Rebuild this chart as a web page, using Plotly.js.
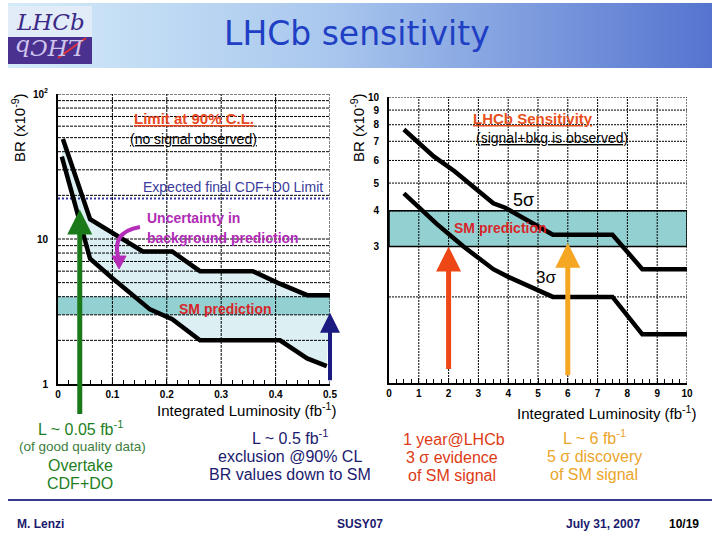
<!DOCTYPE html>
<html><head><meta charset="utf-8">
<script src="https://cdn.plot.ly/plotly-3.0.1.min.js"></script>
<style>html,body{margin:0;padding:0;background:#fff}#chart{width:720px;height:540px}</style>
</head><body><div id="chart"></div>
<script>
// ---------- DATA ----------
// Left panel: 90% CL limit band (Integrated luminosity fb^-1 vs BR x1e-9)
const limitLumiUpper = [0.009, 0.059, 0.156, 0.21, 0.261, 0.358, 0.403, 0.458, 0.5];
const limitBRUpper   = [49, 13.7, 8.2, 8.2, 6.0, 6.0, 5.0, 4.1, 4.1];
const limitLumiLower = [0.007, 0.046, 0.059, 0.099, 0.154, 0.169, 0.21, 0.261, 0.408, 0.458, 0.494];
const limitBRLower   = [37, 10.9, 7.3, 5.4, 3.6, 3.27, 2.8, 2.0, 2.0, 1.5, 1.33];
const cdfD0Expected  = 19;
const smBand         = [3, 4];
// Right panel: sensitivity curves
const lumi5sigma = [0.5, 1.5, 2.2, 3.5, 3.9, 5.5, 7.5, 8.5, 10];
const br5sigma   = [7.7, 6.2, 5.5, 4.25, 4.1, 3.3, 3.3, 2.5, 2.5];
const lumi3sigma = [0.5, 1.6, 2.5, 3.5, 4.0, 5.5, 7.5, 8.5, 10];
const br3sigma   = [4.6, 3.6, 3.0, 2.5, 2.35, 2.0, 2.0, 1.48, 1.48];
// Arrows (luminosity, BR at arrow head)
const arrowLumiLeft  = [0.04, 0.5];
const arrowBRLeft    = [16, 3.1];
const arrowLumiRight = [2, 6];
const arrowBRRight   = [3.0, 3.09];
// Ticks, labels and grid positions
const leftXTicks  = [0, 0.1, 0.2, 0.3, 0.4, 0.5];
const leftXLabels = ['0', '0.1', '0.2', '0.3', '0.4', '0.5'];
const leftYTicks  = [1, 10, 100];
const leftYLabels = ['1', '10', '10<sup>2</sup>'];
const leftYGrid   = [2,3,4,5,6,7,8,9,10,20,30,40,50,60,70,80,90,100];
const rightXTicks = [0,1,2,3,4,5,6,7,8,9,10];
const rightXLabels= ['0','1','2','3','4','5','6','7','8','9','10'];
const rightYTicks = [3,4,5,6,7,8,9,10];
const rightYLabels= ['3','4','5','6','7','8','9','10'];
const rightYGrid  = [2,3,4,5,6,7,8,9,10];

// ---------- HELPERS ----------
const W = 720, H = 540;
const px = x => x / W, py = y => 1 - y / H;
const SANS = 'Liberation Sans, Arial, sans-serif';
function ann(text, x, y, font, extra) {
  return Object.assign({text, x: px(x), y: py(y), xref: 'paper', yref: 'paper', showarrow: false,
    xanchor: 'center', yanchor: 'middle', font: Object.assign({family: SANS, size: 14, color: '#000'}, font || {})}, extra || {});
}
function gridTrace(hVals, x0, x1, vVals, y0, y1, xa, ya, dash) {
  const xs = [], ys = [];
  hVals.forEach(v => { xs.push(x0, x1, null); ys.push(v, v, null); });
  vVals.forEach(v => { xs.push(v, v, null); ys.push(y0, y1, null); });
  return {x: xs, y: ys, xaxis: xa, yaxis: ya, mode: 'lines', hoverinfo: 'skip',
    line: {color: '#000', width: 1, dash: dash}, showlegend: false};
}

// ---------- TRACES ----------
const traces = [];
traces.push({x: limitLumiUpper.concat(limitLumiLower.slice().reverse()),
  y: limitBRUpper.concat(limitBRLower.slice().reverse()),
  xaxis: 'x', yaxis: 'y', mode: 'lines', fill: 'toself', fillcolor: '#dcf0f4',
  line: {width: 0}, hoverinfo: 'skip', showlegend: false});
traces.push({x: [0, 0.5, 0.5, 0, 0], y: [smBand[0], smBand[0], smBand[1], smBand[1], smBand[0]],
  xaxis: 'x', yaxis: 'y', mode: 'lines', fill: 'toself', fillcolor: '#93d0d2',
  line: {width: 0}, hoverinfo: 'skip', showlegend: false});
traces.push({x: [0, 10, 10, 0, 0], y: [smBand[0], smBand[0], smBand[1], smBand[1], smBand[0]],
  xaxis: 'x2', yaxis: 'y2', mode: 'lines', fill: 'toself', fillcolor: '#93d0d2',
  line: {width: 1.5, color: '#000'}, hoverinfo: 'skip', showlegend: false});
traces.push(gridTrace(leftYGrid, 0, 0.5, leftXTicks.slice(1), 1, 100, 'x', 'y', '3px,1px'));
traces.push(gridTrace(rightYGrid, 0, 10, rightXTicks.slice(1), 1, 10, 'x2', 'y2', '2px,1px'));
traces.push({x: [0, 0.5], y: [cdfD0Expected, cdfD0Expected], xaxis: 'x', yaxis: 'y', mode: 'lines',
  line: {color: '#333399', width: 2, dash: '2px,2px'}, hoverinfo: 'skip', showlegend: false});
const curve = (x, y, xa, ya) => ({x, y, xaxis: xa, yaxis: ya, mode: 'lines',
  line: {color: '#000', width: 4.5}, hoverinfo: 'skip', showlegend: false});
traces.push(curve(limitLumiUpper, limitBRUpper, 'x', 'y'));
traces.push(curve(limitLumiLower, limitBRLower, 'x', 'y'));
traces.push(curve(lumi5sigma, br5sigma, 'x2', 'y2'));
traces.push(curve(lumi3sigma, br3sigma, 'x2', 'y2'));

// ---------- AXES ----------
const tickfont = {family: SANS, size: 10, color: '#000', weight: 'bold'};
const axBase = {showgrid: false, zeroline: false, showline: true, linecolor: '#000', linewidth: 2,
  tickfont, tickmode: 'array', fixedrange: true};
const layout = {
  width: W, height: H, margin: {l: 0, r: 0, t: 0, b: 0},
  paper_bgcolor: '#fff', plot_bgcolor: 'rgba(0,0,0,0)', showlegend: false,
  xaxis: Object.assign({}, axBase, {domain: [px(58), px(330)], range: [0, 0.5], anchor: 'y',
    tickvals: leftXTicks, ticktext: leftXLabels, ticks: 'inside', ticklen: 5, tickcolor: '#000',
    minor: {dtick: 0.02, ticks: 'inside', ticklen: 4, tickcolor: '#000', showgrid: false}}),
  yaxis: Object.assign({}, axBase, {domain: [py(384), py(94)], type: 'log', range: [0, 2], anchor: 'x',
    tickvals: leftYTicks, ticktext: leftYLabels, ticks: '', ticklabelstandoff: 6}),
  xaxis2: Object.assign({}, axBase, {domain: [px(389), px(687)], range: [0, 10], anchor: 'y2',
    tickvals: rightXTicks, ticktext: rightXLabels, ticks: 'inside', ticklen: 5, tickcolor: '#000',
    minor: {dtick: 0.25, ticks: 'inside', ticklen: 4, tickcolor: '#000', showgrid: false}}),
  yaxis2: Object.assign({}, axBase, {domain: [py(383), py(97)], type: 'log', range: [0, 1], anchor: 'x2',
    tickvals: rightYTicks, ticktext: rightYLabels, ticks: '', ticklabelstandoff: 6}),
};

// ---------- BANNER ----------
const svg = "<svg xmlns='http://www.w3.org/2000/svg' width='704' height='65'><defs><linearGradient id='g' x1='0' x2='1' y1='0' y2='0'>" +
  "<stop offset='0' stop-color='#d4ebf9'/><stop offset='0.45' stop-color='#aac8ee'/><stop offset='1' stop-color='#5574cf'/></linearGradient></defs>" +
  "<rect width='704' height='65' fill='url(#g)'/></svg>";
layout.images = [{source: 'data:image/svg+xml;charset=utf-8,' + encodeURIComponent(svg),
  xref: 'paper', yref: 'paper', x: px(8), y: py(3), sizex: 704 / W, sizey: 65 / H,
  sizing: 'stretch', xanchor: 'left', yanchor: 'top', layer: 'below'}];

// ---------- SHAPES ----------
const P = (x, y) => px(x).toFixed(4) + ',' + py(y).toFixed(4);
layout.shapes = [
  {type: 'rect', xref: 'paper', yref: 'paper', x0: px(8), x1: px(92), y0: py(64), y1: py(6), fillcolor: '#e2ebf8', line: {width: 0}},
  {type: 'rect', xref: 'paper', yref: 'paper', x0: px(8), x1: px(92), y0: py(64), y1: py(37), fillcolor: '#4a3190', line: {width: 0}},
  {type: 'line', xref: 'paper', yref: 'paper', x0: px(58), y0: py(58), x1: px(86), y1: py(38), line: {color: '#e0303a', width: 2}},
  {type: 'path', xref: 'paper', yref: 'paper', path: 'M' + P(140, 227) + ' Q' + P(110, 232) + ' ' + P(119, 260),
    line: {color: '#b52cb8', width: 4}},
  {type: 'path', xref: 'paper', yref: 'paper', path: 'M' + P(112, 256) + ' L' + P(126, 256) + ' L' + P(119, 269) + ' Z',
    fillcolor: '#b52cb8', line: {color: '#b52cb8', width: 1}},
  {type: 'line', xref: 'paper', yref: 'paper', x0: px(8), x1: px(712), y0: py(500), y1: py(500), line: {color: '#3a3a8c', width: 2}},
];

// ---------- ANNOTATIONS ----------
const arrowAnn = (x, yv, xa, ya, ay, color, w) => ({x, y: Math.log10(yv), xref: xa, yref: ya, text: '',
  showarrow: true, ax: 0, ay, arrowcolor: color, arrowwidth: w, arrowhead: 2, arrowsize: 1, standoff: 0});
const red = '#d8262a';
const BS = 16;
layout.annotations = [
  ann('LHCb', 50, 22, {family: 'DejaVu Serif, serif', size: 23, color: '#3b2a85', style: 'italic'}),
  ann('LHCb', 50, 48, {family: 'DejaVu Serif, serif', size: 23, color: '#cfc6ee', style: 'italic'}, {textangle: 180}),
  ann('LHCb sensitivity', 357, 33, {family: 'DejaVu Sans, sans-serif', size: 33, color: '#1f3fc4'}),
  ann('BR (x10<sup>-9</sup>)', 18, 128, {size: 15}, {textangle: -90}),
  ann('BR (x10<sup>-9</sup>)', 357, 128, {size: 15}, {textangle: -90}),
  ann('Integrated Luminosity (fb<sup>-1</sup>)', 246, 409, {size: 15}),
  ann('Integrated Luminosity (fb<sup>-1</sup>)', 606, 412, {size: 15}),
  ann('<b><u>Limit at 90% C.L.</u></b>', 194, 118, {size: 15, color: '#e84820'}),
  ann('<u>(no signal observed)</u>', 193, 139, {size: 14}),
  ann('Expected final CDF+D0 Limit', 325, 187, {size: 14, color: '#3b3b9c'}, {xanchor: 'right'}),
  ann('<b>Uncertainty in</b>', 145, 218, {size: 14, color: '#b02cb5'}, {xanchor: 'left'}),
  ann('<b>background prediction</b>', 145, 238, {size: 14, color: '#b02cb5'}, {xanchor: 'left'}),
  ann('<b>SM prediction</b>', 225, 309, {size: 14, color: red}),
  ann('<b><u>LHCb Sensitivity</u></b>', 533, 118, {size: 15, color: '#e85020'}),
  ann('<u>(signal+bkg is observed)</u>', 552, 138, {size: 14}),
  ann('5σ', 523, 200, {size: 18}),
  ann('<b>SM prediction</b>', 500, 228, {size: 14, color: red}),
  ann('3σ', 546, 277, {size: 17}),
  arrowAnn(arrowLumiLeft[0], arrowBRLeft[0], 'x', 'y', 206, '#1a7a1a', 5),
  arrowAnn(arrowLumiLeft[1], arrowBRLeft[1], 'x', 'y', 69, '#1a1a80', 4),
  arrowAnn(arrowLumiRight[0], arrowBRRight[0], 'x2', 'y2', 124, '#ee4614', 5),
  arrowAnn(arrowLumiRight[1], arrowBRRight[1], 'x2', 'y2', 134, '#f5a623', 5),
  ann('L ~ 0.05 fb<sup>-1</sup>', 80, 428, {size: BS, color: '#1f7f1f'}),
  ann('(of good quality data)', 82, 447, {size: 13.5, color: '#3d7d3d'}),
  ann('Overtake', 80, 465, {size: BS, color: '#1f7f1f'}),
  ann('CDF+DO', 80, 483, {size: BS, color: '#1f7f1f'}),
  ann('L ~ 0.5 fb<sup>-1</sup>', 290, 437, {size: BS, color: '#1a1a6e'}),
  ann('exclusion @90% CL', 290, 456, {size: BS, color: '#1a1a6e'}),
  ann('BR values down to SM', 290, 474, {size: BS, color: '#1a1a6e'}),
  ann('1 year@LHCb', 454, 439, {size: BS, color: '#dd3a14'}),
  ann('3 σ evidence', 452, 457, {size: BS, color: '#dd3a14'}),
  ann('of SM signal', 452, 475, {size: BS, color: '#dd3a14'}),
  ann('L ~ 6 fb<sup>-1</sup>', 594, 437, {size: BS, color: '#eba52a'}),
  ann('5 σ discovery', 594, 456, {size: BS, color: '#eba52a'}),
  ann('of SM signal', 594, 474, {size: BS, color: '#eba52a'}),
  ann('<b>M. Lenzi</b>', 15, 524, {size: 12, color: '#1a1a6e'}, {xanchor: 'left'}),
  ann('<b>SUSY07</b>', 360, 524, {size: 12, color: '#1a1a6e'}),
  ann('<b>July 31, 2007</b>', 603, 524, {size: 12, color: '#1a1a6e'}),
  ann('<b>10/19</b>', 684, 524, {size: 12, color: '#000'}),
];

Plotly.newPlot('chart', traces, layout, {displayModeBar: false, staticPlot: true});
</script>
</body></html>
